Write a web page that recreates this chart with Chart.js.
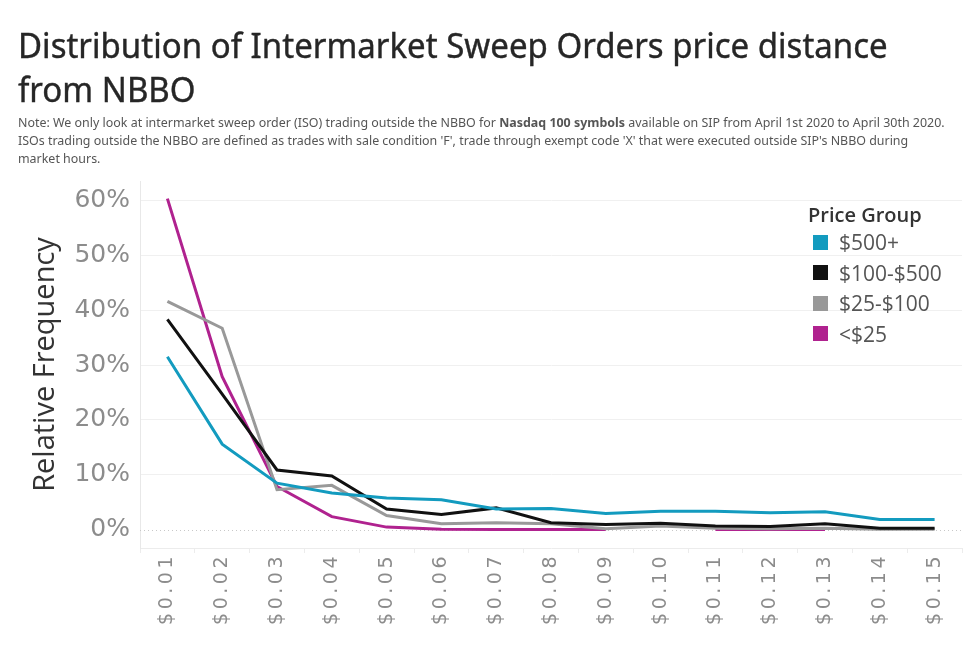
<!DOCTYPE html>
<html>
<head>
<meta charset="utf-8">
<title>ISO price distance from NBBO</title>
<script src="https://cdn.jsdelivr.net/npm/chart.js@4"></script>
<style>
    body { margin: 0; background: #fff; }
    #wrap { position: relative; width: 974px; height: 650px; overflow: hidden; }
    #chart { position: absolute; left: 0; top: 0; }
    .title { position: absolute; left: 18px; font-family: "Noto Sans", sans-serif; font-size: 35px; line-height: 35px; color: #262626; -webkit-text-stroke: 0.4px #262626; white-space: nowrap; transform-origin: left top; }
    #note { position: absolute; left: 18px; top: 114px; font-family: "Noto Sans", sans-serif; font-size: 12.5px; line-height: 18px; color: #555; transform-origin: left top; }
    #note div { white-space: nowrap; }
    #legend { position: absolute; left: 808px; top: 202px; font-family: "Open Sans", sans-serif; }
    #legend .lt { font-size: 20px; font-weight: 600; color: #333; height: 25px; line-height: 25px; }
    #legend .row { height: 30.5px; display: flex; align-items: center; font-size: 21px; color: #555; }
    #legend .sw { width: 15px; height: 15px; margin: 0 11px 0 5px; }
</style>
</head>
<body>
<div id="wrap">
    <canvas id="chart" width="974" height="650"></canvas>
    <div class="title" id="t1" style="top:27px">Distribution of Intermarket Sweep Orders price distance</div>
    <div class="title" id="t2" style="top:71px">from NBBO</div>
    <div id="note">
        <div id="n1">Note: We only look at intermarket sweep order (ISO) trading outside the NBBO for <b>Nasdaq 100 symbols</b> available on SIP from April 1st 2020 to April 30th 2020.</div>
        <div>ISOs trading outside the NBBO are defined as trades with sale condition 'F', trade through exempt code 'X' that were executed outside SIP's NBBO during</div>
        <div>market hours.</div>
    </div>
    <div id="legend"></div>
</div>
<script>
// price distance buckets
const categories = ['$0.01', '$0.02', '$0.03', '$0.04', '$0.05', '$0.06', '$0.07', '$0.08',
    '$0.09', '$0.10', '$0.11', '$0.12', '$0.13', '$0.14', '$0.15'];

// relative frequency (%) per price group
const group500plus = [31.5, 15.6, 8.5, 6.7, 5.8, 5.5, 3.8, 3.9, 3.0, 3.4, 3.4, 3.1, 3.3, 1.9, 1.9];
const group100to500 = [38.3, 24.7, 10.9, 9.8, 3.8, 2.8, 4.0, 1.3, 1.0, 1.2, 0.7, 0.6, 1.1, 0.3, 0.3];
const group25to100 = [41.6, 36.7, 7.3, 8.1, 2.6, 1.1, 1.3, 1.1, 0.2, 0.7, 0.3, 0.2, 0.3, 0.1, 0.1];
const groupUnder25 = [60.3, 27.9, 7.9, 2.4, 0.5, 0.1, 0.05, 0.05, 0.05, null, 0.05, 0.05, 0.05, null, null];

const groupNames = ['$500+', '$100-$500', '$25-$100', '<$25'];
const groupColors = ['#139bbf', '#111111', '#999999', '#b0228f'];

const yTicks = [0, 10, 20, 30, 40, 50, 60];

// scale a text block horizontally so it matches the reference width
function fitText(els, ref, target) {
    const k = target / ref.scrollWidth;
    els.forEach(el => { el.style.transform = 'scaleX(' + k + ')'; });
}

// dotted zero line like the reference
const zeroLine = {
    id: 'zeroLine',
    beforeDatasetsDraw(chart) {
        const { ctx, chartArea, scales } = chart;
        const y = Math.round(scales.y.getPixelForValue(0)) + 0.5;
        ctx.save();
        ctx.strokeStyle = '#c8c8c8';
        ctx.lineWidth = 1;
        ctx.setLineDash([1, 3]);
        ctx.beginPath();
        ctx.moveTo(chartArea.left, y);
        ctx.lineTo(chartArea.right, y);
        ctx.stroke();
        ctx.restore();
    }
};

document.addEventListener('DOMContentLoaded', function () {
    fitText([document.getElementById('t1'), document.getElementById('t2')], document.getElementById('t1'), 870);
    fitText([document.getElementById('note')], document.getElementById('n1'), 927);

    // legend (sits inside the plot, top right)
    const legend = document.getElementById('legend');
    let html = '<div class="lt">Price Group</div>';
    groupNames.forEach((name, i) => {
        html += '<div class="row"><span class="sw" style="background:' + groupColors[i] + '"></span>' +
            name.replace('<', '&lt;') + '</div>';
    });
    legend.innerHTML = html;

    const series = [group500plus, group100to500, group25to100, groupUnder25];
    const ctx = document.getElementById('chart').getContext('2d');

    new Chart(ctx, {
        type: 'line',
        data: {
            labels: categories,
            datasets: series.map((data, i) => ({
                label: groupNames[i],
                data: data,
                borderColor: groupColors[i],
                backgroundColor: groupColors[i],
                borderWidth: 3,
                pointRadius: 0,
                tension: 0,
                spanGaps: false
            }))
        },
        options: {
            responsive: false,
            animation: false,
            layout: { padding: { top: 181, right: 12, left: 0, bottom: 0 } },
            plugins: {
                legend: { display: false },
                tooltip: { enabled: false }
            },
            scales: {
                x: {
                    offset: true,
                    grid: { display: true, drawOnChartArea: false, offset: true, color: '#ececec', tickLength: 5 },
                    border: { display: true, color: '#ececec' },
                    ticks: {
                        autoSkip: false,
                        minRotation: 90,
                        maxRotation: 90,
                        padding: 0,
                        color: '#8c8c8c',
                        font: { family: 'DejaVu Sans', size: 19 }
                    },
                    afterFit(scale) {
                        scale.height = 102;
                        // the reference uses a very wide font; spread the letters out
                        if (!scale._spaced) {
                            const orig = scale.drawLabels;
                            scale.drawLabels = function (area) {
                                this.ctx.save();
                                this.ctx.letterSpacing = '3.5px';
                                orig.call(this, area);
                                this.ctx.restore();
                            };
                            scale._spaced = true;
                        }
                    }
                },
                y: {
                    min: -3.3,
                    max: 63.5,
                    afterBuildTicks(scale) {
                        scale.ticks = yTicks.map(v => ({ value: v }));
                    },
                    grid: {
                        drawTicks: false,
                        color: ctx => ctx.tick && ctx.tick.value === 0 ? 'rgba(0,0,0,0)' : '#f0f0f0'
                    },
                    border: { display: true, color: '#e8e8e8' },
                    ticks: {
                        padding: 10,
                        color: '#8c8c8c',
                        font: { family: 'DejaVu Sans', size: 25 },
                        callback: v => v + '%'
                    },
                    title: {
                        display: true,
                        text: 'Relative Frequency',
                        color: '#333',
                        font: { family: 'Open Sans', size: 29 },
                        padding: { top: 28, bottom: 0 }
                    },
                    afterFit(scale) {
                        scale.width = 140;
                    }
                }
            }
        },
        plugins: [zeroLine]
    });
});
</script>
</body>
</html>
